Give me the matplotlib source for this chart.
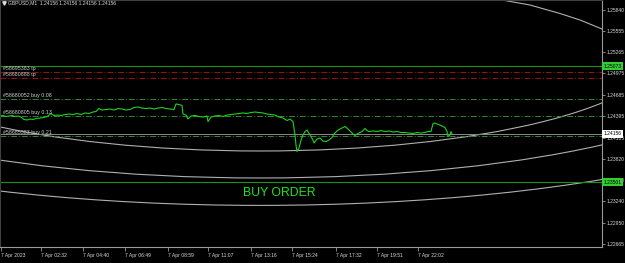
import matplotlib
matplotlib.use("Agg")
import matplotlib.pyplot as plt
from matplotlib.patches import Ellipse
from matplotlib.transforms import blended_transform_factory

# --- data (x = chart slot, y = price) ---
bar_slot = [0, 3, 6, 9, 12, 15, 18, 21, 24, 27,
            30, 33, 36, 40, 44, 48, 51, 54, 57, 61,
            65, 69, 73, 77, 81, 85, 89, 93, 96, 99,
            102, 106, 110, 114, 118, 122, 126, 130, 134, 138,
            142, 146, 150, 154, 158, 162, 166, 170, 174, 176,
            179, 182, 183, 186, 188, 191, 195, 199, 203, 207,
            208, 211, 215, 219, 223, 227, 231, 235, 239, 243,
            247, 251, 255, 259, 263, 267, 271, 275, 279, 283,
            287, 290, 293, 295, 296, 297, 299, 301, 303, 305,
            307, 310, 313, 314, 317, 320, 323, 326, 329, 332,
            334, 337, 339, 343, 345, 347, 350, 353, 355, 357,
            360, 362, 365, 367, 369, 373, 377, 381, 385, 389,
            393, 397, 401, 405, 409, 413, 417, 421, 425, 428,
            431, 433, 435, 437, 440, 443, 445, 447, 448, 450,
            451, 452]
close_price = [1.24397, 1.24404, 1.24390, 1.24397, 1.24404, 1.24390, 1.24397, 1.24383, 1.24350, 1.24343,
               1.24356, 1.24350, 1.24363, 1.24370, 1.24377, 1.24397, 1.24431, 1.24404, 1.24410, 1.24404,
               1.24417, 1.24424, 1.24417, 1.24431, 1.24417, 1.24438, 1.24431, 1.24451, 1.24458, 1.24499,
               1.24478, 1.24485, 1.24492, 1.24478, 1.24499, 1.24492, 1.24478, 1.24485, 1.24512, 1.24519,
               1.24505, 1.24499, 1.24505, 1.24492, 1.24505, 1.24512, 1.24499, 1.24492, 1.24485, 1.24560,
               1.24553, 1.24539, 1.24424, 1.24410, 1.24356, 1.24397, 1.24404, 1.24390, 1.24383, 1.24397,
               1.24322, 1.24383, 1.24397, 1.24404, 1.24390, 1.24410, 1.24417, 1.24424, 1.24431, 1.24438,
               1.24431, 1.24444, 1.24451, 1.24444, 1.24438, 1.24424, 1.24417, 1.24410, 1.24383, 1.24370,
               1.24336, 1.24356, 1.24322, 1.24139, 1.24004, 1.23916, 1.23963, 1.24072, 1.24139, 1.24187,
               1.24207, 1.24139, 1.24072, 1.24031, 1.24085, 1.24099, 1.24058, 1.24051, 1.24072, 1.24106,
               1.24153, 1.24194, 1.24214, 1.24241, 1.24255, 1.24234, 1.24194, 1.24153, 1.24133, 1.24153,
               1.24173, 1.24187, 1.24228, 1.24200, 1.24187, 1.24194, 1.24187, 1.24200, 1.24187, 1.24194,
               1.24180, 1.24187, 1.24173, 1.24173, 1.24167, 1.24160, 1.24173, 1.24167, 1.24173, 1.24187,
               1.24187, 1.24295, 1.24302, 1.24289, 1.24275, 1.24255, 1.24241, 1.24187, 1.24119, 1.24139,
               1.24187, 1.24156]

bid = 1.24156
tp_levels = [1.25000, 1.24910]
tp_labels = ["#58695383 tp", "#58680888 tp"]
buy_levels = [1.24627, 1.24397, 1.24126]
buy_labels = ["#58680052 buy 0.08", "#58680805 buy 0.13", "#58685383 buy 0.21"]
green_levels = [1.25073, 1.23501]

# concentric arcs (ellipse objects on the chart)
arc_center = (260, 1.25278)
arc_half_w = 400
arc_half_h = 0.01355
arc_scales = [1.0, 1.27, 1.544]
# separate arc entering top-right corner
top_arc_slot = [505, 530, 560, 580, 602]
top_arc_price = [1.25962, 1.25901, 1.25786, 1.25698, 1.25576]

y_ticks = [1.25840, 1.25555, 1.25265, 1.24975, 1.24685, 1.24395,
           1.24105, 1.23820, 1.23530, 1.23240, 1.22950, 1.22665]
x_tick_slots = [1, 41, 83, 125, 168, 208, 251, 292, 336, 377, 418]
x_tick_labels = ["7 Apr 2023", "7 Apr 02:32", "7 Apr 04:40", "7 Apr 06:49",
                 "7 Apr 08:59", "7 Apr 11:07", "7 Apr 13:16", "7 Apr 15:24",
                 "7 Apr 17:32", "7 Apr 19:51", "7 Apr 22:02"]

plt.rcParams['font.family'] = ['Liberation Sans', 'DejaVu Sans']
small = 3.6
fig = plt.figure(figsize=(6.25, 2.63), dpi=100, facecolor='black')
ax = fig.add_axes([0.0, 16 / 263, 602 / 625, 247 / 263])
ax.set_facecolor('black')

ax.set_xlim(0, 602)
ax.set_ylim(1.22622, 1.25969)

# horizontal order lines
for lv in green_levels:
    ax.axhline(lv, color='#1f8f1f', lw=0.8)
for lv, lab in zip(tp_levels, tp_labels):
    ax.axhline(lv, color='#a01010', lw=0.7, ls=(0, (6, 2, 1, 2)))
    ax.text(3, lv + 0.00012, lab, color='#d0d0d0', fontsize=3.8, va='bottom')
for lv, lab in zip(buy_levels, buy_labels):
    ax.axhline(lv, color='#2e8b2e', lw=0.7, ls=(0, (6, 2, 1, 2)))
    ax.text(3, lv + 0.00012, lab, color='#d0d0d0', fontsize=3.8, va='bottom')
ax.axhline(bid, color='#8a8a8a', lw=0.7)

# arcs
for k in arc_scales:
    ax.add_patch(Ellipse(arc_center, 2 * arc_half_w * k, 2 * arc_half_h * k,
                         fill=False, edgecolor='#b0b0b0', lw=0.8))
ax.plot(top_arc_slot, top_arc_price, color='#b0b0b0', lw=0.8)

# price line
ax.plot(bar_slot, close_price, color='#1ed21e', lw=0.8)

ax.text(279, 1.2335, "BUY ORDER", color='#1ee61e', fontsize=8.8,
        ha='center', va='center')

# header
ax.text(8, 1.25930, "GBPUSD,M1  1.24156 1.24156 1.24156 1.24156",
        color='#d8d8d8', fontsize=small, va='center')
ax.plot([3.5], [1.25930], marker='v', color='#d8d8d8', markersize=2.5)

# axes styling
for side in ['left', 'top']:
    ax.spines[side].set_color('#404040')
for side in ['right', 'bottom']:
    ax.spines[side].set_color('#9a9a9a')
    ax.spines[side].set_linewidth(0.8)

ax.yaxis.tick_right()
ax.set_yticks(y_ticks)
ax.set_yticklabels([f"{v:.5f}" for v in y_ticks])
ax.tick_params(axis='y', colors='#9a9a9a', labelcolor='#d8d8d8',
               labelsize=small, length=2.5, width=0.6, pad=1)
ax.set_xticks(x_tick_slots)
ax.set_xticklabels(x_tick_labels, ha='left')
ax.tick_params(axis='x', colors='#9a9a9a', labelcolor='#d8d8d8',
               labelsize=small, length=3, width=0.6, pad=1.5)

# price boxes on the right scale
tr = blended_transform_factory(ax.transAxes, ax.transData)
for lv in green_levels:
    ax.text(1.003, lv, f"{lv:.5f}", transform=tr, fontsize=small, color='black',
            va='center', ha='left',
            bbox=dict(boxstyle='square,pad=0.3', fc='#32cd32', ec='none'))
ax.text(1.003, bid, f"{bid:.5f}", transform=tr, fontsize=small, color='black',
        va='center', ha='left',
        bbox=dict(boxstyle='square,pad=0.3', fc='white', ec='none'))

fig.savefig("out.png", dpi=100, facecolor='black')
